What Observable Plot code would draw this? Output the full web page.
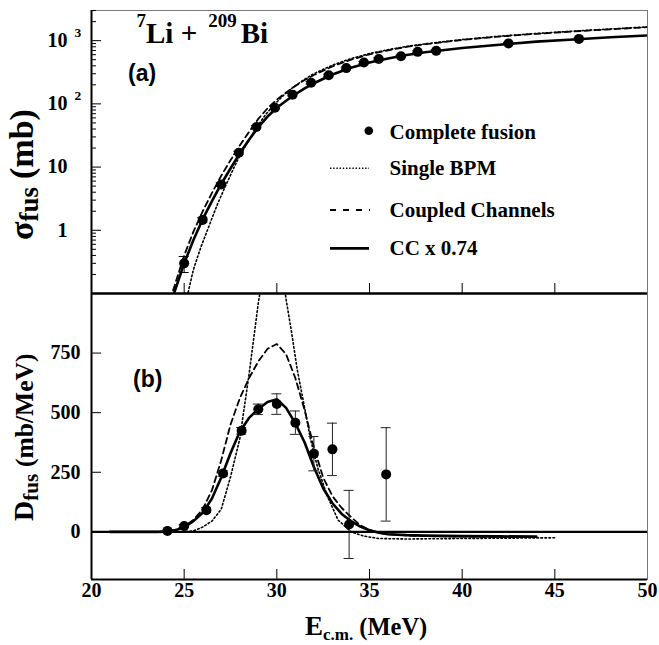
<!DOCTYPE html>
<html><head><meta charset="utf-8">
<script src="https://cdn.jsdelivr.net/npm/d3@7"></script>
<script src="https://cdn.jsdelivr.net/npm/@observablehq/plot@0.6"></script>
<style>
body{margin:0;background:#fff;}
#chart{position:relative;width:659px;height:645px;overflow:hidden;background:#fff;}
#chart svg{position:absolute;left:0;}
</style></head><body><div id="chart"></div>
<script>
// ---------- shared x axis ----------
const xDomain = [20, 50];
const xTicks = [25, 30, 35, 40, 45];
const xTickLabels = [20, 25, 30, 35, 40, 45, 50];

// ---------- panel (a): fusion cross section (mb), log scale ----------
const sigmaDomain = [0.1, 3000];
const sigmaMajorTicks = [1, 10, 100, 1000];
const sigmaMinorTicks = [0.2,0.3,0.4,0.5,0.6,0.7,0.8,0.9, 2,3,4,5,6,7,8,9,
  20,30,40,50,60,70,80,90, 200,300,400,500,600,700,800,900, 2000,3000];
const sigmaLabelValues = [1000, 100, 10, 1];
const sigmaLabelBase = ["10", "10", "10", "1"];
const sigmaLabelExp = ["3", "2", "", ""];

// Complete fusion data
const cfE     = [25.0, 26.0, 27.0, 27.95, 28.9, 29.9, 30.85, 31.85, 32.8, 33.75, 34.7, 35.5, 36.7, 37.6, 38.6, 42.5, 46.3];
const cfSigma = [0.30, 1.46, 5.3, 16.8, 43, 87, 140, 216, 284, 368, 450, 514, 566, 665, 690, 905, 1066];
const cfErr   = [0.085, 0.12, 0.35, 1.0, 2.2, 4, 6, 9, 12, 15, 18, 20, 22, 25, 26, 33, 38];

// Single BPM (dotted)
const bpmE     = [25.05, 25.2, 25.5, 25.9, 26.4, 26.8, 27.2, 27.7, 28.0, 28.4, 28.9, 29.4, 29.9, 30.4, 30.9, 31.5, 32.0, 33.0, 34.0, 35.0, 36.0, 37.0, 38.0, 40.0, 42.0, 44.0, 46.0, 48.0, 50.0];
const bpmSigma = [0.08, 0.1, 0.24, 0.54, 1.3, 2.6, 4.8, 10, 15, 24, 42, 68, 100, 140, 185, 245, 300, 410, 520, 625, 720, 810, 890, 1040, 1175, 1300, 1415, 1530, 1650];

// Coupled channels (dashed)
const ccE     = [24.2, 24.35, 25.0, 25.5, 26.0, 26.5, 27.0, 27.5, 28.0, 28.5, 29.0, 29.5, 30.0, 30.5, 31.0, 31.5, 32.0, 33.0, 34.0, 35.0, 36.0, 37.0, 38.0, 40.0, 42.0, 44.0, 46.0, 48.0, 50.0];
const ccSigma = [0.08, 0.1, 0.40, 0.95, 2.0, 3.9, 7.3, 12.8, 22, 36, 58, 85, 117, 151, 192, 238, 286, 392, 500, 608, 703, 797, 878, 1027, 1162, 1283, 1400, 1513, 1635];

// CC x 0.74 (solid)
const cc74E     = [24.3, 24.45, 25.0, 25.5, 26.0, 26.5, 27.0, 27.5, 28.0, 28.5, 29.0, 29.5, 30.0, 30.5, 31.0, 31.5, 32.0, 33.0, 34.0, 35.0, 36.0, 37.0, 38.0, 40.0, 42.0, 44.0, 46.0, 48.0, 50.0];
const cc74Sigma = [0.08, 0.1, 0.30, 0.70, 1.5, 2.9, 5.4, 9.5, 16.5, 27, 43, 63, 87, 112, 142, 176, 212, 292, 372, 450, 522, 592, 655, 765, 862, 966, 1046, 1134, 1207];

// ---------- panel (b): barrier distribution (mb/MeV) ----------
const dDomain = [-200, 1000];
const dTicks = [0, 250, 500, 750];
const dTickLabels = ["0", "250", "500", "750"];

const bdE   = [24.1, 25.0, 26.2, 27.1, 28.1, 29.0, 30.0, 31.0, 32.0, 33.0, 33.9, 35.9];
const bdD   = [4, 24, 91, 245, 424, 514, 536, 458, 328, 346, 31, 241];
const bdErr = [3, 6, 10, 12, 14, 22, 43, 49, 72, 110, 143, 196];

const bpmDE = [21.0, 25.0, 25.5, 26.0, 26.5, 27.0, 27.5, 28.0, 28.5, 29.0, 29.5, 29.8, 30.1, 30.5, 30.8, 31.1, 31.5, 31.8, 32.2, 32.7, 33.3, 34.0, 34.7, 35.5, 37.0, 40.0, 45.0];
const bpmD  = [0, 0, 4, 20, 45, 95, 230, 390, 660, 960, 1200, 1260, 1200, 975, 835, 681, 520, 395, 270, 155, 50, 0, -18, -28, -30, -28, -25];

const ccDE = [21.0, 23.5, 24.0, 24.5, 25.0, 25.5, 26.0, 26.5, 27.0, 27.5, 28.0, 28.5, 29.0, 29.5, 30.0, 30.5, 31.0, 31.5, 32.0, 32.5, 33.0, 33.5, 34.0, 34.5, 35.0, 35.5, 36.0, 37.0, 38.0, 40.0, 42.0, 44.0];
const ccD  = [0, 0, 2, 8, 22, 50, 95, 175, 300, 450, 560, 645, 715, 768, 788, 745, 645, 510, 355, 228, 150, 100, 62, 28, 8, -3, -10, -15, -18, -20, -21, -22];

const cc74DE = [21.0, 23.5, 24.0, 24.5, 25.0, 25.5, 26.0, 26.5, 27.0, 27.5, 28.0, 28.5, 29.0, 29.5, 30.0, 30.5, 31.0, 31.5, 32.0, 32.5, 33.0, 33.5, 34.0, 34.5, 35.0, 35.5, 36.0, 37.0, 38.0, 40.0, 42.0, 44.0];
const cc74D  = [0, 0, 1, 6, 20, 45, 80, 140, 228, 330, 420, 478, 515, 545, 556, 520, 455, 375, 272, 183, 120, 75, 45, 22, 7, -4, -10, -14, -16, -18, -19, -20];

// ---------- legend ----------
const legendLabels = ["Complete fusion", "Single BPM", "Coupled Channels", "CC x 0.74"];

// ---------- styling ----------
const SERIF = "'Liberation Serif', 'Times New Roman', serif";
const SANS = "'Liberation Sans', Arial, sans-serif";
const W = 659, ML = 91, MR = 12;
const plotW = W - ML - MR;
const DOT = {stroke: "black", strokeWidth: 1.6, strokeDasharray: "1.6,2.4", fill: "none"};
const DASH = {stroke: "black", strokeWidth: 1.8, strokeDasharray: "6,4", fill: "none"};
const SOLID = {stroke: "black", strokeWidth: 2.6, fill: "none"};
const idx = n => Array.from({length: n}, (_, i) => i);

// ===== top panel =====
const topH = 295, topMT = 10, topMB = 2;
const topPlotH = topH - topMT - topMB;
const sigmaLabels = sigmaLabelValues.map((v, i) => ({v, base: sigmaLabelBase[i], exp: sigmaLabelExp[i]}));

const topSvg = Plot.plot({
  width: W, height: topH, marginTop: topMT, marginBottom: topMB, marginLeft: ML, marginRight: MR,
  x: {domain: xDomain, axis: null},
  y: {type: "log", domain: sigmaDomain, axis: null},
  style: {background: "transparent"},
  marks: [
    Plot.frame({stroke: "#777", strokeWidth: 1}),
    Plot.line(idx(bpmE.length), {x: bpmE, y: bpmSigma, ...DOT, clip: true}),
    Plot.line(idx(ccE.length), {x: ccE, y: ccSigma, ...DASH, clip: true}),
    Plot.line(idx(cc74E.length), {x: cc74E, y: cc74Sigma, ...SOLID, clip: true}),
    Plot.ruleX(idx(cfE.length), {x: cfE, y1: cfSigma.map((s, i) => s - cfErr[i]), y2: cfSigma.map((s, i) => s + cfErr[i]), stroke: "black", strokeWidth: 1, clip: true}),
    Plot.ruleY(idx(cfE.length), {y: cfSigma.map((s, i) => s - cfErr[i]), x1: cfE, x2: cfE, insetLeft: -5, insetRight: -5, stroke: "black", strokeWidth: 1, clip: true}),
    Plot.ruleY(idx(cfE.length), {y: cfSigma.map((s, i) => s + cfErr[i]), x1: cfE, x2: cfE, insetLeft: -5, insetRight: -5, stroke: "black", strokeWidth: 1, clip: true}),
    Plot.dot(idx(cfE.length), {x: cfE, y: cfSigma, r: 5, fill: "black", stroke: "none"}),
    // ticks
    Plot.ruleY(sigmaMajorTicks, {y: d => d, insetRight: plotW - 10, stroke: "black", strokeWidth: 1}),
    Plot.ruleY(sigmaMinorTicks, {y: d => d, insetRight: plotW - 5, stroke: "black", strokeWidth: 1}),
    Plot.ruleX(xTicks, {x: d => d, insetTop: topPlotH - 10, stroke: "black", strokeWidth: 1}),
    // axis lines
    Plot.ruleX([xDomain[0]], {stroke: "black", strokeWidth: 2}),
    Plot.ruleY([sigmaDomain[0]], {stroke: "black", strokeWidth: 2}),
    // tick labels
    Plot.text(sigmaLabels, {y: "v", text: "base", frameAnchor: "left", textAnchor: "end", dx: -24, fontSize: 20, fontWeight: "bold", fontFamily: SERIF, fill: "black"}),
    Plot.text(sigmaLabels.filter(d => d.exp), {y: "v", text: "exp", frameAnchor: "left", textAnchor: "start", dx: -17, dy: -8, fontSize: 13.5, fontWeight: "bold", fontFamily: SERIF, fill: "black"})
  ]
});

// ===== bottom panel =====
const botTop = 288, botH = 645 - botTop, botMT = 5, botMB = 66;
const botPlotH = botH - botMT - botMB;

const botSvg = Plot.plot({
  width: W, height: botH, marginTop: botMT, marginBottom: botMB, marginLeft: ML, marginRight: MR,
  x: {domain: xDomain, axis: null},
  y: {domain: dDomain, axis: null},
  style: {background: "transparent"},
  marks: [
    Plot.frame({stroke: "#777", strokeWidth: 1}),
    Plot.ruleY([0], {stroke: "black", strokeWidth: 2.2}),
    Plot.line(idx(bpmDE.length), {x: bpmDE, y: bpmD, ...DOT, clip: true}),
    Plot.line(idx(ccDE.length), {x: ccDE, y: ccD, ...DASH, clip: true}),
    Plot.line(idx(cc74DE.length), {x: cc74DE, y: cc74D, ...SOLID, clip: true}),
    Plot.ruleX(idx(bdE.length), {x: bdE, y1: bdD.map((d, i) => d - bdErr[i]), y2: bdD.map((d, i) => d + bdErr[i]), stroke: "#222", strokeWidth: 1}),
    Plot.ruleY(idx(bdE.length), {y: bdD.map((d, i) => d - bdErr[i]), x1: bdE, x2: bdE, insetLeft: -5, insetRight: -5, stroke: "#222", strokeWidth: 1}),
    Plot.ruleY(idx(bdE.length), {y: bdD.map((d, i) => d + bdErr[i]), x1: bdE, x2: bdE, insetLeft: -5, insetRight: -5, stroke: "#222", strokeWidth: 1}),
    Plot.dot(idx(bdE.length), {x: bdE, y: bdD, r: 5, fill: "black", stroke: "none"}),
    // ticks
    Plot.ruleY(dTicks, {y: d => d, insetRight: plotW - 10, stroke: "black", strokeWidth: 1}),
    Plot.ruleX(xTicks, {x: d => d, insetTop: botPlotH - 10, stroke: "black", strokeWidth: 1}),
    // axis lines
    Plot.ruleX([xDomain[0]], {stroke: "black", strokeWidth: 2}),
    Plot.ruleY([dDomain[0]], {stroke: "black", strokeWidth: 2}),
    Plot.ruleY([dDomain[1]], {stroke: "black", strokeWidth: 2}),
    // tick labels
    Plot.text(dTicks, {y: d => d, text: (d, i) => dTickLabels[i], frameAnchor: "left", textAnchor: "end", dx: -11, fontSize: 20, fontWeight: "bold", fontFamily: SERIF, fill: "black"}),
    Plot.text(xTickLabels, {x: d => d, text: d => String(d), frameAnchor: "bottom", dy: 17, fontSize: 20, fontWeight: "bold", fontFamily: SERIF, fill: "black"})
  ]
});

const chart = document.getElementById("chart");
topSvg.style.top = "0px";
botSvg.style.top = botTop + "px";
chart.appendChild(topSvg);
chart.appendChild(botSvg);

// ---------- annotations (text with sub/superscripts) ----------
const ts = d3.select(topSvg);
const title = ts.append("text").attr("x", 136.5).attr("y", 42.7).attr("text-anchor", "start")
  .attr("font-family", SERIF).attr("font-weight", "bold").attr("font-size", 29).attr("fill", "black");
title.append("tspan").attr("font-size", 19).attr("dy", -16).text("7");
title.append("tspan").attr("dy", 16).text("Li +");
title.append("tspan").attr("font-size", 19).attr("dy", -16).attr("dx", 11).text("209");
title.append("tspan").attr("dy", 16).attr("dx", 4).text("Bi");

ts.append("text").attr("x", 128).attr("y", 80.5).attr("text-anchor", "start").attr("font-family", SANS).attr("font-weight", "bold")
  .attr("font-size", 23).attr("fill", "black").text("(a)");

// y title (a): reads bottom-to-top, starting at y = 240
const yt = ts.append("text").attr("transform", "translate(33,240) rotate(-90)").attr("text-anchor", "start")
  .attr("font-family", SERIF).attr("font-weight", "bold").attr("font-size", 34).attr("fill", "black");
yt.append("tspan").text("σ");
yt.append("tspan").attr("font-size", 27).attr("dy", 5).text("fus");
yt.append("tspan").attr("dy", -5).attr("dx", 8).text("(mb)");

// legend
const lg = ts.append("g").attr("text-anchor", "start").attr("font-family", SERIF).attr("font-weight", "bold").attr("font-size", 21).attr("fill", "black");
const legX0 = 330, legX1 = 369, legTx = 389.5;
lg.append("circle").attr("cx", 368.8).attr("cy", 130.8).attr("r", 4.3).attr("fill", "black");
lg.append("line").attr("x1", legX0).attr("x2", legX1).attr("y1", 168.3).attr("y2", 168.3)
  .attr("stroke", "black").attr("stroke-width", 1.4).attr("stroke-dasharray", "1.4,1.8");
lg.append("line").attr("x1", legX0).attr("x2", legX1 + 1).attr("y1", 210).attr("y2", 210)
  .attr("stroke", "black").attr("stroke-width", 1.8).attr("stroke-dasharray", "6,7");
lg.append("line").attr("x1", legX0).attr("x2", legX1).attr("y1", 248.3).attr("y2", 248.3)
  .attr("stroke", "black").attr("stroke-width", 2.8);
const legBase = [138.5, 175, 216.7, 255];
legendLabels.forEach((s, i) => lg.append("text").attr("x", legTx).attr("y", legBase[i]).text(s));

const bs = d3.select(botSvg);
bs.append("text").attr("x", 133).attr("y", 387 - botTop).attr("text-anchor", "start").attr("font-family", SANS).attr("font-weight", "bold")
  .attr("font-size", 23).attr("fill", "black").text("(b)");

// y title (b): reads bottom-to-top, starting at y = 521
const yb = bs.append("text").attr("transform", `translate(33,${521 - botTop}) rotate(-90)`).attr("text-anchor", "start")
  .attr("font-family", SERIF).attr("font-weight", "bold").attr("font-size", 28).attr("fill", "black");
yb.append("tspan").text("D");
yb.append("tspan").attr("font-size", 21).attr("dy", 5).text("fus");
yb.append("tspan").attr("dy", -5).attr("dx", 7).attr("font-size", 25.5).text("(mb/MeV)");

const xt = bs.append("text").attr("x", 305).attr("y", 634.5 - botTop).attr("text-anchor", "start")
  .attr("font-family", SERIF).attr("font-weight", "bold").attr("font-size", 27).attr("fill", "black");
xt.append("tspan").text("E");
xt.append("tspan").attr("font-size", 17).attr("dy", 5).text("c.m.");
xt.append("tspan").attr("font-size", 24.5).attr("dy", -5).attr("dx", 6).text("(MeV)");
</script></body></html>
